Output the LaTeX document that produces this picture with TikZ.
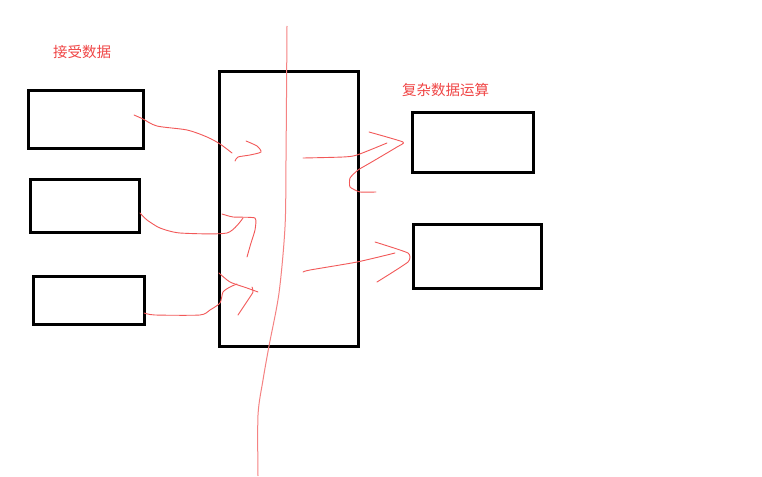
\documentclass[tikz,border=0pt]{standalone}
\usepackage{fontspec}
\newfontfamily\cjk{Noto Sans CJK SC}
\definecolor{pen}{RGB}{242,88,88}
\definecolor{penlight}{RGB}{245,130,130}
\definecolor{txtred}{RGB}{240,70,70}
\begin{document}
\begin{tikzpicture}[x=1pt,y=-1pt,
  box/.style={draw=black, line width=3pt, inner sep=0pt, fill=white},
  sketch/.style={draw=pen, line width=0.9pt, line cap=round, line join=round},
  lbl/.style={text=txtred, font=\cjk\fontsize{14.5pt}{16pt}\selectfont, inner sep=0pt}]
\useasboundingbox[fill=white] (0,0) rectangle (762,476);
% boxes
\node[box, minimum width=115, minimum height=57] (a) at (85.5,119.5) {};
\node[box, minimum width=109, minimum height=53] (b) at (84.5,205.5) {};
\node[box, minimum width=111, minimum height=48] (c) at (88.5,300) {};
\node[box, minimum width=139, minimum height=274] (m) at (288.5,209) {};
\node[box, minimum width=121, minimum height=59] (r1) at (472.5,142.5) {};
\node[box, minimum width=128, minimum height=64] (r2) at (477,256) {};
% labels
\node[lbl] (t1) at (82,52) {接受数据};
\node[lbl] (t2) at (445.5,90) {复杂数据运算};
% vertical divider
\draw[draw=penlight, line width=1pt] plot[smooth, tension=0.5] coordinates {(287,26) (286,160) (285,227) (279,293) (269,346) (263,380) (258,415) (258,476)};
% arrow from a
\draw[sketch] plot[smooth, tension=0.5] coordinates {(134,115) (143,119) (157,126) (187,130) (207,137) (220,144) (232,153)};
\draw[sketch] plot[smooth, tension=0.4] coordinates {(246,141) (257,146) (261,152) (250,155) (238,157) (235,161)};
% arrow from b
\draw[sketch] plot[smooth, tension=0.4] coordinates {(140,213) (147,220) (160,228) (180,233) (227,233) (243,218)};
\draw[sketch] plot[smooth, tension=0.3] coordinates {(222,214) (233,217) (255,218) (255,230) (251,243) (247,257)};
% arrow from c
\draw[sketch] plot[smooth, tension=0.4] coordinates {(144,313) (155,315) (200,315) (210,310) (220,303) (223,292) (230,287) (237,284)};
\draw[sketch] plot[smooth, tension=0.4] coordinates {(219,273) (230,282) (247,288) (258,292)};
\draw[sketch] plot[smooth, tension=0.4] coordinates {(252,287) (253,292) (248,300) (238,315)};
% arrow to r1
\draw[sketch] plot[smooth, tension=0.4] coordinates {(303,158) (343,157) (357,155) (387,143)};
\draw[sketch] plot[smooth, tension=0.3] coordinates {(369,132) (403,142) (397,147) (370,163) (358,170) (350,178) (350,187) (360,192) (376,192)};
% arrow to r2
\draw[sketch] plot[smooth, tension=0.4] coordinates {(303,272) (310,270) (357,262) (395,253)};
\draw[sketch] plot[smooth, tension=0.3] coordinates {(375,242) (408,253) (408,262) (377,282)};
\end{tikzpicture}
\end{document}
